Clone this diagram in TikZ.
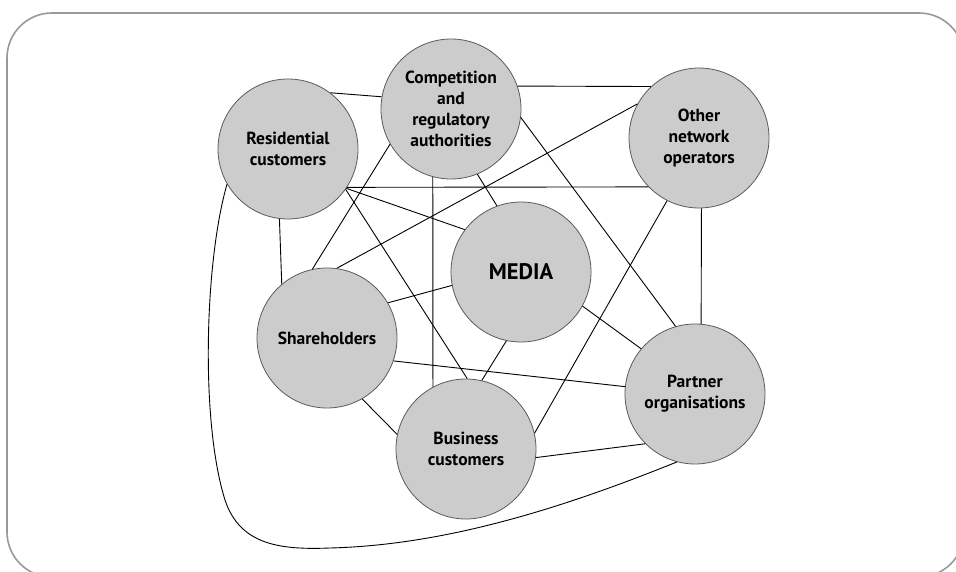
\documentclass[tikz,border=0pt]{standalone}
\usepackage{fontspec}
\setsansfont{PT Sans}
\begin{document}
\begin{tikzpicture}[x=1pt,y=-1pt,
  party/.style={circle, draw=black!65, fill=black!20, line width=0.8pt,
    minimum size=140pt, inner sep=0pt, align=center,
    font=\sffamily\bfseries\fontsize{17.5}{21}\selectfont},
  link/.style={draw=black, line width=0.9pt},
  frame/.style={draw=black!40, line width=1.6pt, rounded corners=45pt}]
\useasboundingbox (0,0) rectangle (956,572);
\clip (0,0) rectangle (956,572);
\draw[frame] (7,13) rectangle (964,577);

% stakeholders
\node[party] (res) at (288,149) {Residential\\customers};
\node[party] (comp) at (451,109) {Competition\\and\\regulatory\\authorities};
\node[party] (oth) at (699,138) {Other\\network\\operators};
\node[party, font=\sffamily\bfseries\fontsize{22.5}{26}\selectfont] (med) at (521,272) {MEDIA};
\node[party] (sha) at (327,338) {Shareholders};
\node[party] (bus) at (466,449) {Business\\customers};
\node[party] (par) at (695,394) {Partner\\organisations};

% relationships
\draw[link] (res.53) -- (comp.170);
\draw[link] (comp.19) -- (oth.133);
\draw[link] (res.327) -- (oth.224);
\draw[link] (res.326) -- (med.143);
\draw[link] (res.325) -- (bus.89);
\draw[link] (res.263) -- (sha.130);
\draw[link] (comp.210) -- (sha.102);
\draw[link] (comp.255) -- (bus.118);
\draw[link] (comp.292) -- (med.110);
\draw[link] (comp.353) -- (par.106);
\draw[link] (oth.151) -- (sha.82);
\draw[link] (oth.243) -- (bus.13);
\draw[link] (oth.272) -- (par.85);
\draw[link] (med.191) -- (sha.30);
\draw[link] (med.258) -- (bus.77);
\draw[link] (med.331) -- (par.140);
\draw[link] (sha.341) -- (par.174);
\draw[link] (sha.300) -- (bus.168);
\draw[link] (bus.353) -- (par.225);
\draw[link] (res.210) .. controls (205,260) and (200,420) .. (225,500)
  .. controls (240,545) and (280,550) .. (330,548)
  .. controls (450,545) and (570,505) .. (par.255);
\end{tikzpicture}
\end{document}
